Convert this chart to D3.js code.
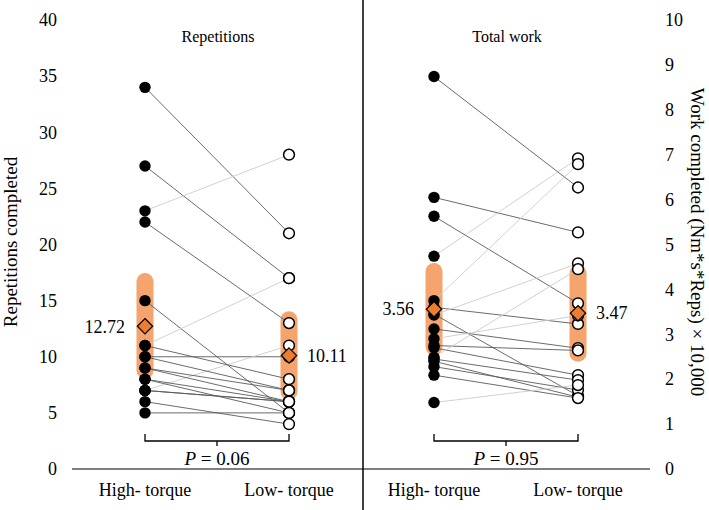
<!DOCTYPE html>
<html><head><meta charset="utf-8">
<script src="https://cdn.jsdelivr.net/npm/d3@7"></script>
<style>body{margin:0;background:#fff}svg{display:block}svg text{font-family:"Liberation Serif","Times New Roman","DejaVu Serif",serif}</style>
</head><body><svg id="c" width="709" height="510"></svg>
<script>
const conditions = ["High- torque", "Low- torque"];
const repsHigh = [34, 27, 23, 22, 15, 10, 11, 7, 6, 5, 11, 10, 9, 9, 8, 8, 7, 7];
const repsLow  = [21, 17, 28, 13, 5, 10, 17, 11, 4, 5, 8, 7, 6, 7, 6, 5, 6, 6];
const workHigh = [8.74, 6.05, 5.63, 4.74, 3.75, 3.6, 3.45, 3.43, 3.12, 2.9, 2.75, 2.7, 2.49, 2.45, 2.4, 2.28, 2.09, 1.48];
const workLow  = [6.27, 5.27, 3.69, 6.92, 6.79, 3.23, 1.63, 4.58, 2.69, 3.42, 2.64, 2.09, 4.45, 1.98, 1.60, 1.76, 1.58, 1.87];
const repsMeans = [12.72, 10.11];
const workMeans = [3.56, 3.47];
const repsSD = [[8.8, 16.7], [6.9, 13.3]];
const workSD = [[2.72, 4.40], [2.58, 4.36]];
const repsTicks = [0, 5, 10, 15, 20, 25, 30, 35, 40];
const workTicks = [0, 1, 2, 3, 4, 5, 6, 7, 8, 9, 10];
const panelTitles = ["Repetitions", "Total work"];
const pValues = ["0.06", "0.95"];
const yTitleLeft = "Repetitions completed";
const yTitleRight = "Work completed (Nm*s*Reps) \u00d7 10,000";

const FONT = "Liberation Serif";
const svg = d3.select("#c");
const yL = d3.scaleLinear().domain([0, 40]).range([469, 20]);
const yR = d3.scaleLinear().domain([0, 10]).range([469, 20]);
const xL = d3.scalePoint().domain(conditions).range([145, 289]);
const xR = d3.scalePoint().domain(conditions).range([434, 578]);

// axes (labels only)
const axL = svg.append("g").attr("transform", "translate(57,0)")
  .call(d3.axisLeft(yL).tickValues(repsTicks).tickSize(0).tickPadding(0));
const axR = svg.append("g").attr("transform", "translate(665,0)")
  .call(d3.axisRight(yR).tickValues(workTicks).tickSize(0).tickPadding(0));
[axL, axR].forEach(a => {
  a.attr("font-family", FONT);
  a.select(".domain").remove();
  a.selectAll("text").attr("font-size", 18).attr("font-family", FONT).attr("fill", "#000");
});

// x axis line and divider
svg.append("line").attr("x1", 72).attr("x2", 650).attr("y1", yL(0)).attr("y2", yL(0)).attr("stroke", "#000").attr("stroke-width", 1.2);
svg.append("line").attr("x1", 363).attr("x2", 363).attr("y1", 0).attr("y2", 510).attr("stroke", "#000").attr("stroke-width", 1.5);

// axis titles
svg.append("text").attr("transform", "translate(17,242) rotate(-90)").attr("text-anchor", "middle")
  .attr("font-family", FONT).attr("font-size", 19).text(yTitleLeft);
svg.append("text").attr("transform", "translate(691,242) rotate(90)").attr("text-anchor", "middle")
  .attr("font-family", FONT).attr("font-size", 19).text(yTitleRight);

function panel(x, y, hi, lo, means, sd, title, p, meanFmt) {
  const g = svg.append("g").attr("font-family", FONT);
  const cx = x.range();
  conditions.forEach(c => g.append("text").attr("x", x(c)).attr("y", 496).attr("text-anchor", "middle")
    .attr("font-size", 18).text(c));
  g.append("text").attr("x", (cx[0] + cx[1]) / 2 + 1).attr("y", 42).attr("text-anchor", "middle").attr("font-size", 16).text(title);
  // SD bars
  conditions.forEach((c, i) => g.append("line").attr("x1", x(c)).attr("x2", x(c))
    .attr("y1", y(sd[i][0])).attr("y2", y(sd[i][1]))
    .attr("stroke", "#F4A46C").attr("stroke-width", 17).attr("stroke-linecap", "round"));
  // connecting lines
  const pairs = hi.map((h, i) => [h, lo[i]]);
  g.selectAll(".pl").data(pairs).join("line")
    .attr("x1", x(conditions[0])).attr("x2", x(conditions[1]))
    .attr("y1", d => y(d[0])).attr("y2", d => y(d[1]))
    .attr("stroke", d => d[1] > d[0] ? "#cccccc" : "#5a5a5a")
    .attr("stroke-width", 0.9);
  // dots
  g.selectAll(".hd").data(hi).join("circle").attr("cx", x(conditions[0])).attr("cy", d => y(d)).attr("r", 5.7).attr("fill", "#000");
  g.selectAll(".ld").data(lo).join("circle").attr("cx", x(conditions[1])).attr("cy", d => y(d)).attr("r", 5.4)
    .attr("fill", "#fff").attr("stroke", "#000").attr("stroke-width", 1.5);
  // mean diamonds
  const sym = d3.symbol().type(d3.symbolDiamond2).size(150);
  conditions.forEach((c, i) => g.append("path").attr("d", sym())
    .attr("transform", `translate(${x(c)},${y(means[i])})`)
    .attr("fill", "#ED7D31").attr("stroke", "#000").attr("stroke-width", 1.2));
  // mean labels
  g.append("text").attr("x", x(conditions[0]) - 20).attr("y", y(means[0])).attr("dy", "0.35em")
    .attr("text-anchor", "end").attr("font-size", 18).text(meanFmt(means[0]));
  g.append("text").attr("x", x(conditions[1]) + 18).attr("y", y(means[1])).attr("dy", "0.35em")
    .attr("text-anchor", "start").attr("font-size", 18).text(meanFmt(means[1]));
  // bracket
  const by = yL(0) - 28, mid = (cx[0] + cx[1]) / 2;
  g.append("path").attr("d", `M${cx[0]},${by - 7}V${by}H${cx[1]}V${by - 7}M${mid},${by}V${by + 5}`)
    .attr("fill", "none").attr("stroke", "#000").attr("stroke-width", 1.3);
  const t = g.append("text").attr("x", mid).attr("y", by + 24).attr("text-anchor", "middle").attr("font-size", 19);
  t.append("tspan").attr("font-style", "italic").text("P");
  t.append("tspan").text(" = " + p);
}
panel(xL, yL, repsHigh, repsLow, repsMeans, repsSD, panelTitles[0], pValues[0], d3.format(".2f"));
panel(xR, yR, workHigh, workLow, workMeans, workSD, panelTitles[1], pValues[1], d3.format(".2f"));
</script></body></html>
